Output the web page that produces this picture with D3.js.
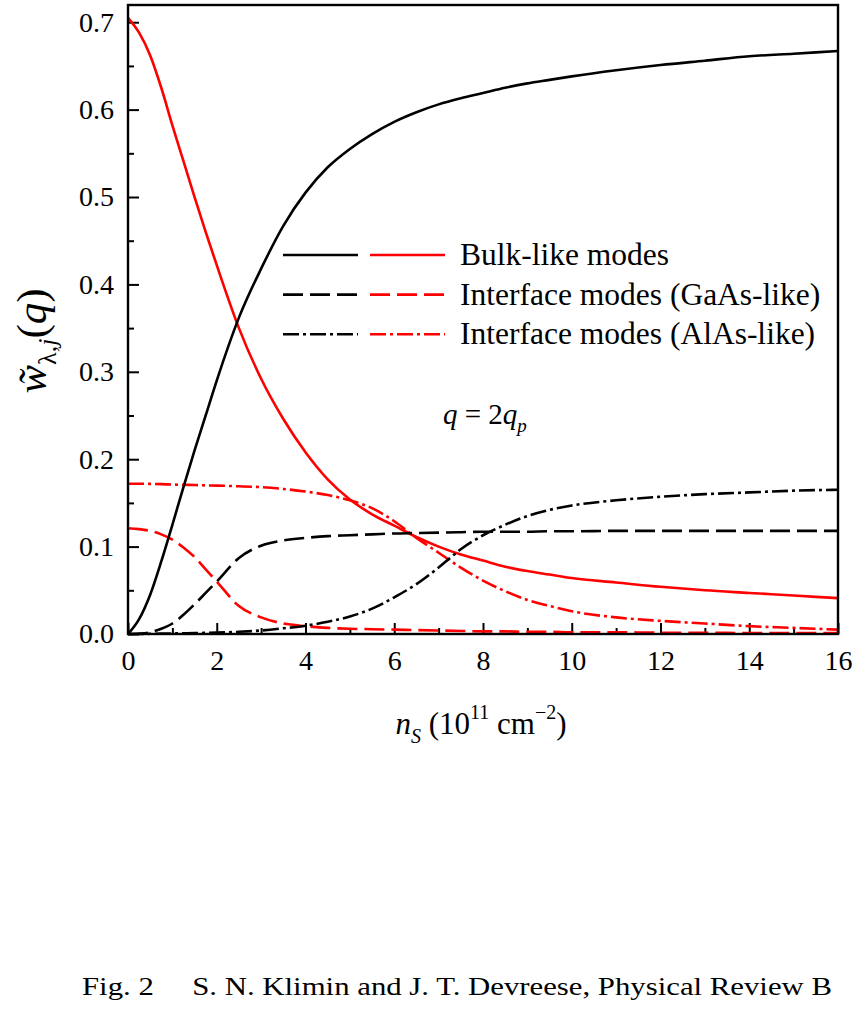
<!DOCTYPE html>
<html>
<head>
<meta charset="utf-8">
<script src="https://cdn.jsdelivr.net/npm/d3@7"></script>
<style>
  body { margin: 0; background: #fff; }
  text { font-family: "Liberation Serif", "Times New Roman", serif; fill: #000; }
</style>
</head>
<body>
<svg id="chart"></svg>
<script>
// carrier density n_S (10^11 cm^-2)
const ns = [0, 0.25, 0.5, 0.75, 1, 1.25, 1.5, 1.75, 2, 2.5, 3, 3.5, 4, 4.5, 5, 5.5, 6, 6.5, 7, 7.5, 8, 8.5, 9, 9.5, 10, 11, 12, 13, 14, 15, 16];

// black curves
const bulkBlack = [0, 0.017, 0.045, 0.083, 0.125, 0.168, 0.21, 0.25, 0.29, 0.362, 0.418, 0.467, 0.505, 0.534, 0.555, 0.572, 0.586, 0.597, 0.606, 0.613, 0.619, 0.625, 0.630, 0.634, 0.638, 0.645, 0.651, 0.656, 0.661, 0.664, 0.667];
const gaasBlack = [0, 0.0005, 0.002, 0.006, 0.012, 0.022, 0.034, 0.047, 0.060, 0.087, 0.101, 0.107, 0.110, 0.112, 0.113, 0.114, 0.115, 0.1155, 0.116, 0.1165, 0.117, 0.117, 0.117, 0.1175, 0.1175, 0.118, 0.118, 0.118, 0.118, 0.118, 0.118];
const alasBlack = [0, 0, 0.0002, 0.0004, 0.0006, 0.0008, 0.001, 0.0013, 0.0016, 0.0025, 0.004, 0.0065, 0.0095, 0.014, 0.020, 0.029, 0.042, 0.057, 0.076, 0.097, 0.113, 0.125, 0.135, 0.142, 0.147, 0.153, 0.157, 0.160, 0.162, 0.164, 0.165];

// red curves
const bulkRed = [0.705, 0.688, 0.662, 0.625, 0.582, 0.541, 0.5, 0.46, 0.422, 0.35, 0.292, 0.246, 0.208, 0.177, 0.154, 0.137, 0.124, 0.111, 0.100, 0.091, 0.084, 0.077, 0.072, 0.068, 0.064, 0.059, 0.054, 0.050, 0.047, 0.044, 0.041];
const gaasRed = [0.121, 0.120, 0.118, 0.114, 0.108, 0.099, 0.088, 0.074, 0.060, 0.032, 0.019, 0.012, 0.009, 0.007, 0.006, 0.0055, 0.005, 0.0045, 0.004, 0.0035, 0.003, 0.003, 0.0025, 0.0025, 0.002, 0.002, 0.0015, 0.0015, 0.001, 0.001, 0.001];
const alasRed = [0.172, 0.172, 0.1718, 0.1715, 0.171, 0.1707, 0.1705, 0.170, 0.1698, 0.169, 0.168, 0.166, 0.163, 0.159, 0.153, 0.144, 0.129, 0.110, 0.093, 0.076, 0.061, 0.049, 0.039, 0.032, 0.026, 0.019, 0.015, 0.012, 0.009, 0.007, 0.005];

const xTicks = [0, 2, 4, 6, 8, 10, 12, 14, 16];
const xMinor = [1, 3, 5, 7, 9, 11, 13, 15];
const yTicks = [0, 0.1, 0.2, 0.3, 0.4, 0.5, 0.6, 0.7];
const yMinor = [0.05, 0.15, 0.25, 0.35, 0.45, 0.55, 0.65];

const legendLabels = ["Bulk-like modes", "Interface modes (GaAs-like)", "Interface modes (AlAs-like)"];

const W = 855, H = 1011;
const margin = { top: 5, right: 17, bottom: 377, left: 128 };
const width = W - margin.left - margin.right;
const height = H - margin.top - margin.bottom;

const dashes = { solid: null, dash: "20,7", dashdot: "16,4,3,4" };
const lw = 2.6;

const svg = d3.select("#chart").attr("width", W).attr("height", H);
const g = svg.append("g").attr("transform", "translate(" + margin.left + "," + margin.top + ")");

const x = d3.scaleLinear().domain([0, 16]).range([0, width]);
const y = d3.scaleLinear().domain([0, 0.7197]).range([height, 0]);

// axes, ticks pointing inward
g.append("g").attr("transform", "translate(0," + height + ")")
  .call(d3.axisBottom(x).tickValues(xTicks).tickSize(-11).tickPadding(16).tickFormat(d3.format("d")));
g.append("g").attr("transform", "translate(0," + height + ")")
  .call(d3.axisBottom(x).tickValues(xMinor).tickSize(-6).tickFormat(""));
g.append("g")
  .call(d3.axisLeft(y).tickValues(yTicks).tickSize(-11).tickPadding(14).tickFormat(d3.format(".1f")));
g.append("g")
  .call(d3.axisLeft(y).tickValues(yMinor).tickSize(-6).tickFormat(""));

g.selectAll(".domain").remove();
g.selectAll(".tick line").attr("stroke", "#000").attr("stroke-width", 2);
g.selectAll(".tick text").style("font-family", "Liberation Serif").style("font-size", "28px");

// curves
const series = [
  { vals: alasRed, color: "#ff0000", dash: dashes.dashdot },
  { vals: gaasRed, color: "#ff0000", dash: dashes.dash },
  { vals: bulkRed, color: "#ff0000", dash: dashes.solid },
  { vals: alasBlack, color: "#000", dash: dashes.dashdot },
  { vals: gaasBlack, color: "#000", dash: dashes.dash },
  { vals: bulkBlack, color: "#000", dash: dashes.solid }
];

const line = d3.line()
  .x((d, i) => x(ns[i]))
  .y(d => y(d))
  .curve(d3.curveMonotoneX);

g.selectAll(".curve")
  .data(series)
  .enter().append("path")
  .attr("class", "curve")
  .attr("d", s => line(s.vals))
  .attr("fill", "none")
  .attr("stroke", s => s.color)
  .attr("stroke-width", lw)
  .attr("stroke-dasharray", s => s.dash);

// frame
g.append("rect")
  .attr("width", width).attr("height", height)
  .attr("fill", "none").attr("stroke", "#000").attr("stroke-width", 2.4);

// legend
const legendDash = [dashes.solid, dashes.dash, dashes.dashdot];
const leg = svg.append("g").attr("transform", "translate(283,255)");
legendLabels.forEach((lab, i) => {
  const row = leg.append("g").attr("transform", "translate(0," + (i * 39.6) + ")");
  row.append("line").attr("x1", 0).attr("x2", 75).attr("stroke", "#000")
    .attr("stroke-width", lw).attr("stroke-dasharray", legendDash[i]);
  row.append("line").attr("x1", 87).attr("x2", 162).attr("stroke", "#ff0000")
    .attr("stroke-width", lw).attr("stroke-dasharray", legendDash[i]);
  row.append("text").attr("x", 177).attr("y", 10).style("font-size", "31.5px").text(lab);
});

// annotation q = 2q_p
const ann = svg.append("text").attr("x", 443).attr("y", 424).style("font-size", "29px");
ann.append("tspan").style("font-style", "italic").text("q");
ann.append("tspan").text(" = 2");
ann.append("tspan").style("font-style", "italic").text("q");
ann.append("tspan").style("font-style", "italic").style("font-size", "19px").attr("dy", 8).text("p");

// x axis title
const xt = svg.append("text").attr("x", 481).attr("y", 734).attr("text-anchor", "middle").style("font-size", "31px");
xt.append("tspan").style("font-style", "italic").text("n");
xt.append("tspan").style("font-style", "italic").style("font-size", "20px").attr("dy", 9).text("S");
xt.append("tspan").attr("dy", -9).text(" (10");
xt.append("tspan").style("font-size", "20px").attr("dy", -15).text("11");
xt.append("tspan").attr("dy", 15).text(" cm");
xt.append("tspan").style("font-size", "20px").attr("dy", -15).text("\u22122");
xt.append("tspan").attr("dy", 15).text(")");

// y axis title
const yt = svg.append("text").attr("transform", "translate(46,341) rotate(-90)")
  .attr("text-anchor", "middle").style("font-size", "43px");
yt.append("tspan").style("font-style", "italic").text("w\u0303");
yt.append("tspan").style("font-size", "26px").attr("dy", 10).text("\u03bb,");
yt.append("tspan").style("font-size", "26px").style("font-style", "italic").text("j");
yt.append("tspan").attr("dy", -10).text("(");
yt.append("tspan").style("font-style", "italic").text("q");
yt.append("tspan").text(")");

// caption
svg.append("text").attr("x", 82).attr("y", 995).style("font-size", "26px")
  .attr("textLength", 750).attr("lengthAdjust", "spacingAndGlyphs")
  .style("white-space", "pre")
  .text("Fig. 2     S. N. Klimin and J. T. Devreese, Physical Review B");
</script>
</body>
</html>
